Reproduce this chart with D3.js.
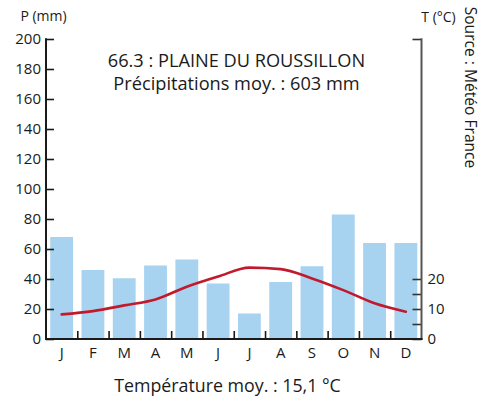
<!DOCTYPE html>
<html><head><meta charset="utf-8">
<script src="https://cdn.jsdelivr.net/npm/d3@7/dist/d3.min.js"></script>
<style>body{margin:0;background:#fff}svg{display:block}text{font-family:"Open Sans","Noto Sans",sans-serif;fill:#1a1a1a}</style>
</head><body><svg id="c" width="491" height="400"></svg>
<script>
const months = ["J","F","M","A","M","J","J","A","S","O","N","D"];
const precip = [68, 46, 40.5, 49, 53, 37, 17, 38, 48.5, 83, 64, 64];
const temp = [8.2, 9.3, 11.2, 13.2, 17.4, 20.8, 23.8, 23.3, 20.2, 16.3, 11.9, 9.1];
const pTicks = [0,20,40,60,80,100,120,140,160,180,200];
const tTicksMinor = [0,5,10,15,20];
const tTickLabels = [0,10,20];
const title1 = "66.3 : PLAINE DU ROUSSILLON";
const title2 = "Précipitations moy. : 603 mm";
const footer = "Température moy. : 15,1 °C";

const svg = d3.select("#c");
const L = 46, R = 421.5, T0 = 339, Ttop = 39;
const x = d3.scaleBand().domain(d3.range(12)).range([L, R]).paddingInner(0.27).paddingOuter(0.135);
const xb = d3.scaleLinear().domain([0,12]).range([L,R]);
const yP = d3.scaleLinear().domain([0,200]).range([T0, Ttop]);
const yT = d3.scaleLinear().domain([0,100]).range([T0, Ttop]);

// bars
svg.append("g").selectAll("rect").data(precip).join("rect")
  .attr("x",(d,i)=>x(i)).attr("width",x.bandwidth())
  .attr("y",d=>yP(d)).attr("height",d=>T0-yP(d)).attr("fill","#a8d3f0");

// temperature line
const line = d3.line().x((d,i)=>x(i)+x.bandwidth()/2).y(d=>yT(d)).curve(d3.curveMonotoneX);
svg.append("path").datum(temp).attr("d",line).attr("fill","none")
  .attr("stroke","#c21a2c").attr("stroke-width",2.6).attr("stroke-linecap","round");

// left axis
const gl = svg.append("g").attr("transform",`translate(${L},0)`);
gl.call(d3.axisRight(yP).tickValues(pTicks).tickSize(8).tickFormat(""));
gl.select(".domain").remove();
gl.selectAll(".tick line").attr("stroke","#1a1a1a").attr("stroke-width",1.6);
gl.append("line").attr("x1",0).attr("x2",0).attr("y1",Ttop-0.8).attr("y2",T0+1).attr("stroke","#1a1a1a").attr("stroke-width",2);
svg.append("g").selectAll("text").data(pTicks).join("text")
  .attr("x",L-5).attr("y",d=>yP(d)).attr("dy","0.36em").attr("text-anchor","end")
  .attr("font-size",15).text(d=>d);

// right axis
const gr = svg.append("g").attr("transform",`translate(${R},0)`);
gr.call(d3.axisLeft(yT).tickValues(tTicksMinor.concat([100])).tickSize(9).tickFormat(""));
gr.select(".domain").remove();
gr.selectAll(".tick line").attr("stroke","#333").attr("stroke-width",1.6);
gr.append("line").attr("x1",0).attr("x2",0).attr("y1",Ttop-0.8).attr("y2",T0+1).attr("stroke","#555").attr("stroke-width",2);
svg.append("g").selectAll("text").data(tTickLabels).join("text")
  .attr("x",R+6).attr("y",d=>yT(d)).attr("dy","0.36em").attr("text-anchor","start")
  .attr("font-size",15).text(d=>d);

// x axis
const gx = svg.append("g").attr("transform",`translate(0,${T0})`);
gx.call(d3.axisTop(xb).tickValues(d3.range(1,12)).tickSize(8).tickFormat(""));
gx.select(".domain").remove();
gx.selectAll(".tick line").attr("stroke","#1a1a1a").attr("stroke-width",1.6);
gx.append("line").attr("x1",L-1).attr("x2",R+1).attr("y1",0).attr("y2",0).attr("stroke","#1a1a1a").attr("stroke-width",2);
svg.append("g").selectAll("text").data(months).join("text")
  .attr("x",(d,i)=>x(i)+x.bandwidth()/2).attr("y",357.5).attr("text-anchor","middle")
  .attr("font-size",15).text(d=>d);

// titles
svg.append("text").attr("x",236.5).attr("y",67).attr("text-anchor","middle").attr("font-size",18.2).text(title1);
svg.append("text").attr("x",236.5).attr("y",89.5).attr("text-anchor","middle").attr("font-size",18.2).text(title2);
svg.append("text").attr("x",227.5).attr("y",392).attr("text-anchor","middle").attr("font-size",17.8).text(footer);
svg.append("text").attr("x",43.5).attr("y",21).attr("text-anchor","middle").attr("font-size",14).text("P (mm)");
svg.append("text").attr("x",438.5).attr("y",22).attr("text-anchor","middle").attr("font-size",14).text("T (°C)");
svg.append("text").attr("transform","translate(464.5,87.5) rotate(90)").attr("text-anchor","middle").attr("font-size",15.6).text("Source : Météo France");
</script></body></html>
